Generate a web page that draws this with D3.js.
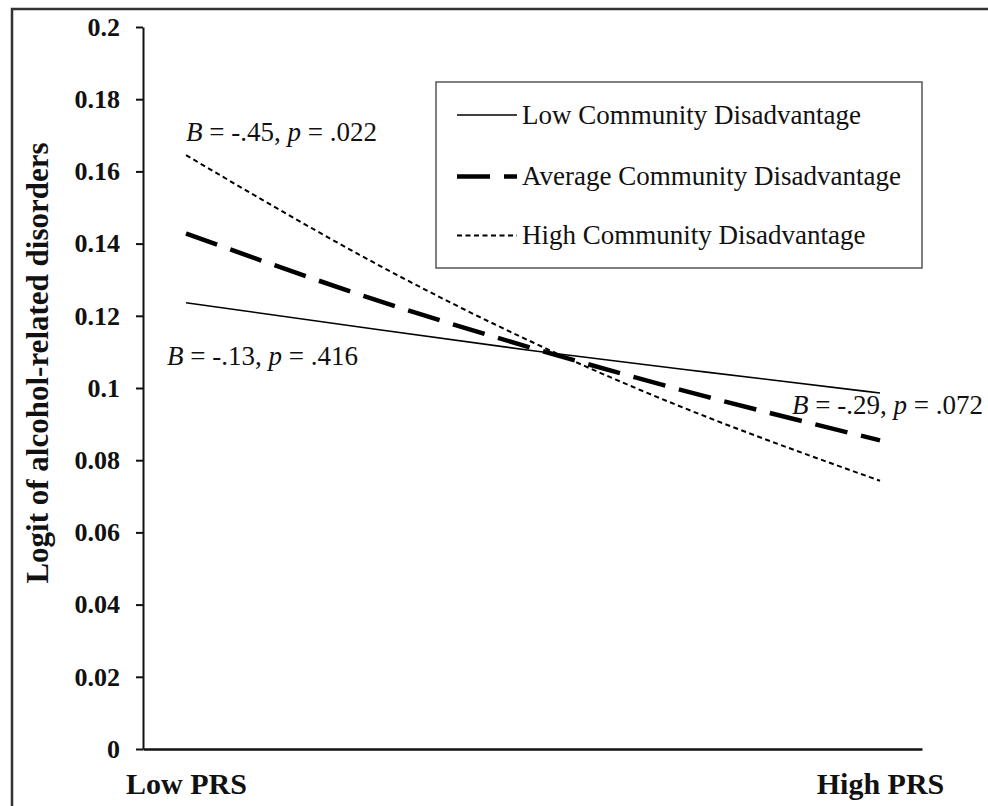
<!DOCTYPE html>
<html>
<head>
<meta charset="utf-8">
<script src="https://cdn.jsdelivr.net/npm/d3@7"></script>
<style>
  body { margin: 0; background: #fff; }
  text { font-family: "Liberation Serif", "Times New Roman", serif; fill: #111; }
</style>
</head>
<body>
<svg width="988" height="806"></svg>
<script>

// DATA ––––––––––––––––––––––––––––––––––––––––––––––––––––––––––––––––

// PRS in SD units, -1 = low, +1 = high
var prsLevels = [-1, -0.5, 0, 0.5, 1];
var prsLabels = ["Low PRS", "High PRS"];

var lowDisadv  = [0.1236, 0.1169, 0.1103, 0.1044, 0.0986];
var avgDisadv  = [0.1428, 0.1259, 0.1110, 0.0976, 0.0855];
var highDisadv = [0.1645, 0.1369, 0.1126, 0.0920, 0.0743];

var seriesNames = ["Low Community Disadvantage", "Average Community Disadvantage", "High Community Disadvantage"];

var yTicks = [0, 0.02, 0.04, 0.06, 0.08, 0.1, 0.12, 0.14, 0.16, 0.18, 0.2];
var yTickLabels = ["0", "0.02", "0.04", "0.06", "0.08", "0.1", "0.12", "0.14", "0.16", "0.18", "0.2"];

// simple slopes: [B, p]
var slopeNotes = [["-.45", ".022"], ["-.13", ".416"], ["-.29", ".072"]];


// D3 ––––––––––––––––––––––––––––––––––––––––––––––––––––––––––––––––––

var svg = d3.select("svg");

// outer frame
svg.append("rect")
  .attr("x", 12).attr("y", 9)
  .attr("width", 995).attr("height", 815)
  .attr("fill", "none")
  .attr("stroke", "#333")
  .attr("stroke-width", 2.5);

var x = d3.scaleLinear().domain([-1.124, 1.121]).range([143, 922]);
var y = d3.scaleLinear().domain([0, 0.2]).range([749, 27]);

// y axis
var yAxis = svg.append("g")
  .attr("transform", "translate(" + x.range()[0] + ",0)")
  .call(d3.axisLeft(y)
    .tickValues(yTicks)
    .tickSize(7)
    .tickSizeOuter(0)
    .tickPadding(16)
    .tickFormat(function(d, i) { return yTickLabels[i]; }));
yAxis.select(".domain").attr("stroke", "#111").attr("stroke-width", 2);
yAxis.selectAll(".tick line").attr("stroke", "#111").attr("stroke-width", 2);
yAxis.selectAll(".tick text")
  .attr("font-family", "Liberation Serif, Times New Roman, serif")
  .attr("font-size", 26)
  .attr("font-weight", "bold")
  .attr("fill", "#111");

// x axis
var xAxis = svg.append("g")
  .attr("transform", "translate(0," + y(0) + ")")
  .call(d3.axisBottom(x)
    .tickValues([-1, 1])
    .tickSize(0)
    .tickSizeOuter(0)
    .tickPadding(24)
    .tickFormat(function(d, i) { return prsLabels[i]; }));
xAxis.select(".domain").attr("stroke", "#111").attr("stroke-width", 2.5);
xAxis.selectAll(".tick text")
  .attr("font-family", "Liberation Serif, Times New Roman, serif")
  .attr("font-size", 30)
  .attr("font-weight", "bold")
  .attr("fill", "#111");

// y label
svg.append("text")
  .attr("transform", "translate(48," + ((y(0) + y(0.2)) / 2 - 25) + ") rotate(-90)")
  .attr("text-anchor", "middle")
  .attr("font-size", 31)
  .attr("font-weight", "bold")
  .text("Logit of alcohol-related disorders");

// lines
var styles = [
  {width: 1.6, dash: null},
  {width: 4.5, dash: "33,14"},
  {width: 2, dash: "5,3.5"}
];
var allSeries = [lowDisadv, avgDisadv, highDisadv];

var line = d3.line()
  .x(function(d, i) { return x(prsLevels[i]); })
  .y(function(d) { return y(d); })
  .curve(d3.curveNatural);

allSeries.forEach(function(data, k) {
  svg.append("path")
    .datum(data)
    .attr("fill", "none")
    .attr("stroke", "#000")
    .attr("stroke-width", styles[k].width)
    .attr("stroke-dasharray", styles[k].dash)
    .attr("d", line);
});

// slope notes
function note(txt, px, py) {
  var t = svg.append("text")
    .attr("x", px).attr("y", py)
    .attr("font-size", 27);
  t.append("tspan").attr("font-style", "italic").text("B");
  t.append("tspan").text(" = " + txt[0] + ", ");
  t.append("tspan").attr("font-style", "italic").text("p");
  t.append("tspan").text(" = " + txt[1]);
}
note(slopeNotes[0], x(-1), 141);
note(slopeNotes[1], 167, 365);
note(slopeNotes[2], 792, 414);

// legend
var legend = svg.append("g");
legend.append("rect")
  .attr("x", 436).attr("y", 82)
  .attr("width", 486).attr("height", 186)
  .attr("fill", "#fff")
  .attr("stroke", "#555")
  .attr("stroke-width", 1.5);

var rowY = [115, 176.5, 235.5];
seriesNames.forEach(function(name, k) {
  legend.append("line")
    .attr("x1", 457).attr("x2", 517)
    .attr("y1", rowY[k]).attr("y2", rowY[k])
    .attr("stroke", "#000")
    .attr("stroke-width", styles[k].width)
    .attr("stroke-dasharray", styles[k].dash);
  legend.append("text")
    .attr("x", 522).attr("y", rowY[k] + 8.5)
    .attr("font-size", 27)
    .text(name);
});

</script>
</body>
</html>
